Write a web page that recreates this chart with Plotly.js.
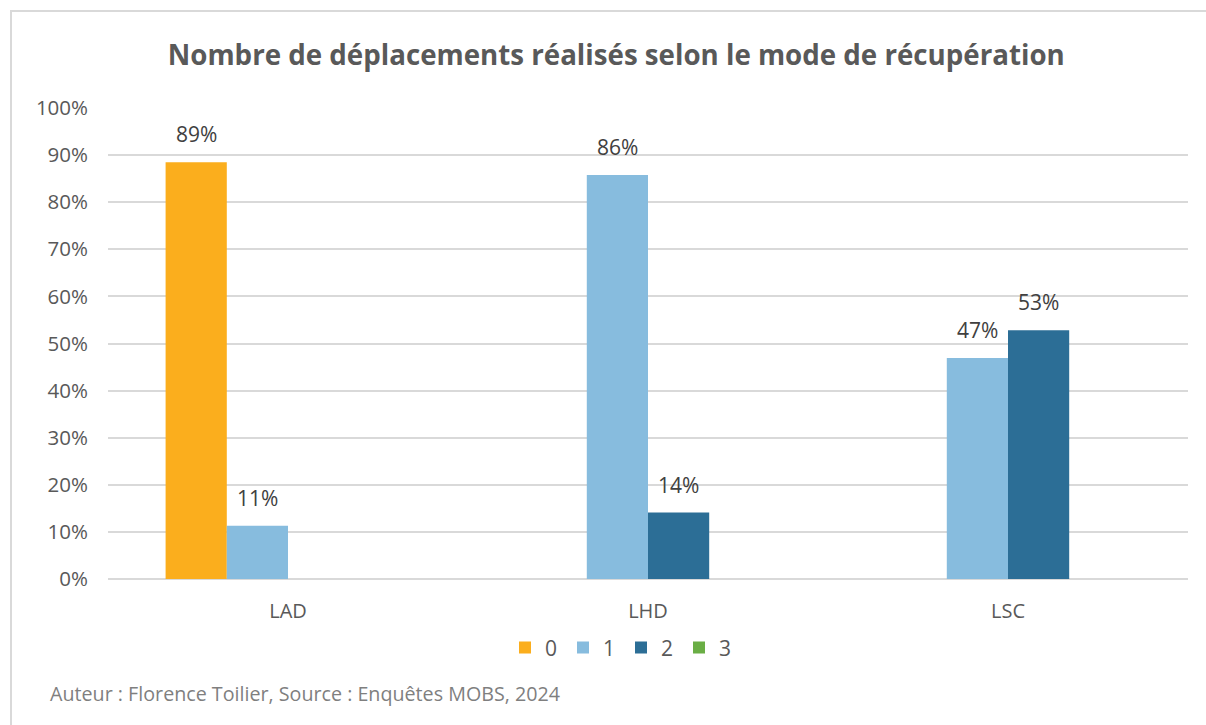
<!DOCTYPE html>
<html>
<head>
<meta charset="utf-8">
<script src="https://cdn.plot.ly/plotly-3.0.1.min.js"></script>
<style>
  html, body { margin: 0; padding: 0; background: #ffffff; }
  #wrap { position: relative; width: 1206px; height: 725px; overflow: hidden; }
  #chart { position: absolute; left: 0; top: 0; width: 1206px; height: 725px; }
  #frame { position: absolute; left: 10px; top: 10px; width: 1200px; height: 720px;
           border-top: 2px solid #d9d9d9; border-left: 2px solid #d9d9d9; pointer-events: none; }
</style>
</head>
<body>
<div id="wrap">
  <div id="chart"></div>
  <div id="frame"></div>
</div>
<script>
const categories = ['LAD', 'LHD', 'LSC'];
const seriesNames = ['0', '1', '2', '3'];
const values0 = [88.5, 0, 0];
const values1 = [11.3, 85.8, 46.9];
const values2 = [0, 14.1, 52.8];
const values3 = [0, 0, 0];
const seriesColors = ['#FBAE1D', '#87BCDE', '#2C6E96', '#6AAE45'];
const yTicks = [0, 10, 20, 30, 40, 50, 60, 70, 80, 90, 100];
const titleText = 'Nombre de déplacements réalisés selon le mode de récupération';
const footerText = 'Auteur : Florence Toilier, Source : Enquêtes MOBS, 2024';

const allValues = [values0, values1, values2, values3];
const FONT = '"Open Sans", "Noto Sans", sans-serif';

const W = 1206, H = 725;
const M = { l: 108, r: 18, t: 108, b: 146 };
const BARGAP = 0.32;
const plotW = W - M.l - M.r;
const catPx = plotW / categories.length;
const barPx = catPx * (1 - BARGAP) / allValues.length;

const traces = allValues.map((vals, i) => ({
  type: 'bar',
  name: seriesNames[i],
  x: categories,
  y: vals,
  marker: { color: seriesColors[i] },
  hoverinfo: 'x+y+name'
}));

// data labels (skip zero values), positioned via axis coordinates
const labelAnns = [];
allValues.forEach((vals, i) => {
  vals.forEach((v, j) => {
    if (v > 0) {
      labelAnns.push({
        x: categories[j], y: v, xref: 'x', yref: 'y',
        xshift: (i - (allValues.length - 1) / 2) * barPx,
        yshift: 12,
        yanchor: 'bottom', xanchor: 'center',
        text: Math.round(v) + '%',
        showarrow: false,
        font: { family: FONT, size: 21, color: '#404040' }
      });
    }
  });
});

const layout = {
  width: W,
  height: H,
  paper_bgcolor: '#ffffff',
  plot_bgcolor: '#ffffff',
  margin: M,
  barmode: 'group',
  bargap: BARGAP,
  bargroupgap: 0,
  showlegend: true,
  title: {
    text: '<b>' + titleText + '</b>',
    x: 0.511, xanchor: 'center',
    y: 0.924, yanchor: 'middle',
    font: { family: FONT, size: 27.7, color: '#595959' }
  },
  xaxis: {
    type: 'category',
    tickfont: { family: FONT, size: 20, color: '#595959' },
    showgrid: false,
    showline: false,
    ticks: '',
    ticklen: 0,
    ticklabelstandoff: 18,
    fixedrange: true
  },
  yaxis: {
    range: [0, 100],
    tickvals: yTicks,
    ticktext: yTicks.map(t => t + '%'),
    tickfont: { family: FONT, size: 20.5, color: '#595959' },
    showgrid: true,
    gridcolor: '#d9d9d9',
    gridwidth: 2,
    zeroline: true,
    zerolinecolor: '#d9d9d9',
    zerolinewidth: 2,
    showline: false,
    ticks: '',
    ticklabelstandoff: 19,
    fixedrange: true
  },
  legend: {
    orientation: 'h',
    x: 0.475, xanchor: 'center',
    y: -0.146, yanchor: 'middle',
    font: { family: FONT, size: 21, color: '#595959' },
    itemwidth: 30,
    entrywidth: 13,
    entrywidthmode: 'pixels',
    tracegroupgap: 0,
    bgcolor: 'rgba(0,0,0,0)'
  },
  annotations: labelAnns.concat([{
    text: footerText,
    xref: 'paper', yref: 'paper',
    x: -0.0556, xanchor: 'left',
    y: -0.244, yanchor: 'middle',
    showarrow: false,
    font: { family: FONT, size: 19.7, color: '#7f7f7f' }
  }])
};

Plotly.newPlot('chart', traces, layout, { displayModeBar: false, staticPlot: true });
</script>
</body>
</html>
